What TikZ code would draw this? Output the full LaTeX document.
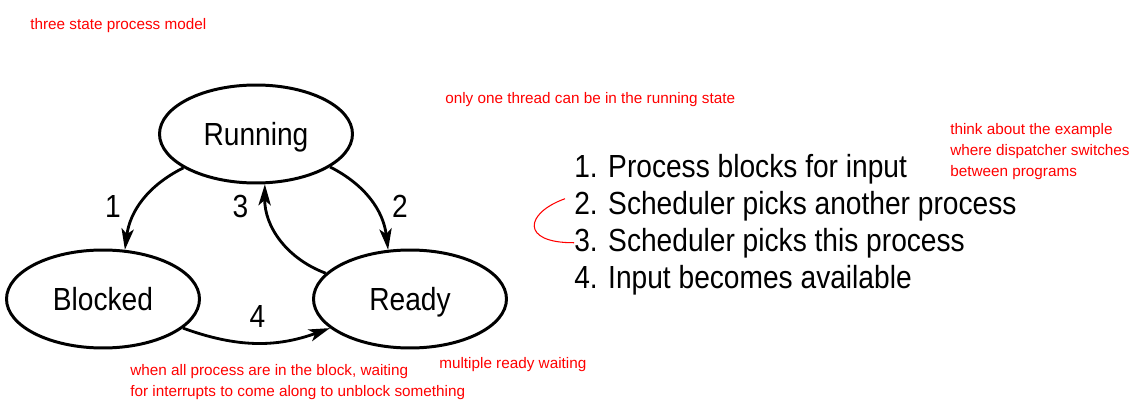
\documentclass[tikz,border=0pt]{standalone}
\usepackage{fontspec}
\setmainfont{Liberation Sans}
\newfontfamily\narrowsans[FakeStretch=0.88]{Liberation Sans}
\usetikzlibrary{arrows.meta,shapes.geometric}
\definecolor{NoteRed}{RGB}{255,0,0}

\begin{document}
\begin{tikzpicture}[x=0.02cm, y=0.02cm,
    statenode/.style={ellipse, draw, line width=1.7pt, minimum width=3.86cm, minimum height=1.96cm,
      inner sep=0pt, text depth=0pt, font=\narrowsans\fontsize{18.2}{20}\selectfont},
    move/.style={-{Stealth[length=12pt,width=7pt,inset=3pt]}, line width=1.6pt},
    numlabel/.style={inner sep=0pt, text depth=0pt, font=\narrowsans\fontsize{18.2}{20}\selectfont},
    listline/.style={anchor=base west, inner sep=0pt, font=\narrowsans\fontsize{18.2}{20}\selectfont},
    note/.style={text=NoteRed, inner sep=0pt, align=left, font=\fontsize{8.7}{12}\selectfont}]
  \useasboundingbox (0,0) rectangle (1144,410);

  % the three states
  \node[statenode] (running) at (256,276) {Running};
  \node[statenode] (blocked) at (103,111) {Blocked};
  \node[statenode] (ready) at (410,111) {Ready};

  \draw[move] (running.205) to[bend right=28] (blocked.66);
  \draw[move] (running.336) to[bend left=28] (ready.114);
  \draw[move] (ready.163) to[bend left=35] (running.280);
  \draw[move] (blocked.340) to[bend right=20] (ready.200);

  \node[numlabel] (n1) at (113,204) {1};
  \node[numlabel] (n2) at (400,204) {2};
  \node[numlabel] (n3) at (240.5,204) {3};
  \node[numlabel] (n4) at (257.5,94) {4};

  % transitions list
  \foreach \txt [count=\i] in {Process blocks for input, Scheduler picks another process,
      Scheduler picks this process, Input becomes available}
    \node[listline] (item\i) at (574,270-37*\i) {\i. \txt};

  \draw[NoteRed, line width=0.6pt] ([shift={(-9,7)}]item2.west) .. controls (525,197) and (520,167) .. (item3.west);

  % handwritten notes
  \node[note, anchor=base west] (title) at (30,380) {three state process model};
  \node[note, anchor=base west] (onlyone) at (445,307) {only one thread can be in the running state};
  \node[note, anchor=north west] (dispatch) at (950,287) {think about the example\\where dispatcher switches\\between programs};
  \node[note, anchor=base west] (multi) at (439,42) {multiple ready waiting};
  \node[note, anchor=north west] (allblock) at (130,46) {when all process are in the block, waiting\\for interrupts to come along to unblock something};
\end{tikzpicture}
\end{document}
